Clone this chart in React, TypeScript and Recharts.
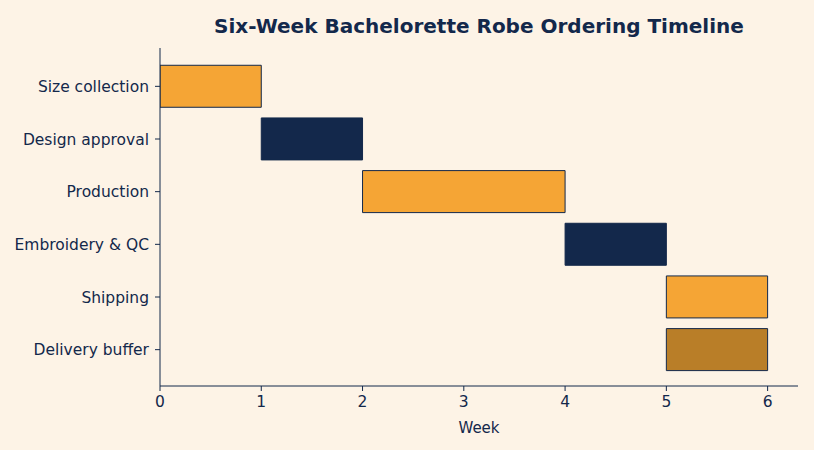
import { BarChart, Bar, XAxis, YAxis, Cell } from "recharts";

const tasks = ["Size collection", "Design approval", "Production", "Embroidery & QC", "Shipping", "Delivery buffer"];
const startWeeks = [0, 1, 2, 4, 5, 5];
const durations = [1, 1, 2, 1, 1, 1];
const barColors = ["#F5A535", "#13284B", "#F5A535", "#13284B", "#F5A535", "#B97E28"];
const weekTicks = [0, 1, 2, 3, 4, 5, 6];

const data = tasks.map((task, i) => ({ task, start: startWeeks[i], duration: durations[i] }));

const ink = "#13284B";
const font = "'DejaVu Sans', sans-serif";

export default function App() {
  return (
    <div style={{ position: "absolute", left: 0, top: 0, width: 814, height: 450, background: "#FDF3E6", fontFamily: font }}>
      <div
        style={{
          position: "absolute",
          left: 160,
          width: 638,
          top: 13,
          textAlign: "center",
          fontSize: 20,
          fontWeight: "bold",
          color: ink,
          lineHeight: "26px",
        }}
      >
        Six-Week Bachelorette Robe Ordering Timeline
      </div>
      <BarChart
        width={814}
        height={450}
        data={data}
        layout="vertical"
        margin={{ top: 48, right: 16, bottom: 0, left: 0 }}
      >
        <XAxis
          type="number"
          domain={[0, 6.3]}
          ticks={weekTicks}
          allowDataOverflow
          stroke={ink}
          tick={{ fill: ink, fontSize: 15.5, fontFamily: font }}
          tickSize={5}
          tickMargin={5}
          height={64}
          label={{ value: "Week", position: "insideBottom", offset: 17, fill: ink, fontSize: 15, fontFamily: font }}
        />
        <YAxis
          type="category"
          dataKey="task"
          width={160}
          stroke={ink}
          tick={{ fill: ink, fontSize: 15.5, fontFamily: font }}
          tickSize={5}
          tickMargin={6}
          padding={{ top: 12, bottom: 10 }}
        />
        <Bar dataKey="start" stackId="g" fill="transparent" isAnimationActive={false} />
        <Bar dataKey="duration" stackId="g" barSize={42} stroke={ink} strokeWidth={1} isAnimationActive={false}>
          {data.map((d, i) => (
            <Cell key={d.task} fill={barColors[i]} />
          ))}
        </Bar>
      </BarChart>
    </div>
  );
}
